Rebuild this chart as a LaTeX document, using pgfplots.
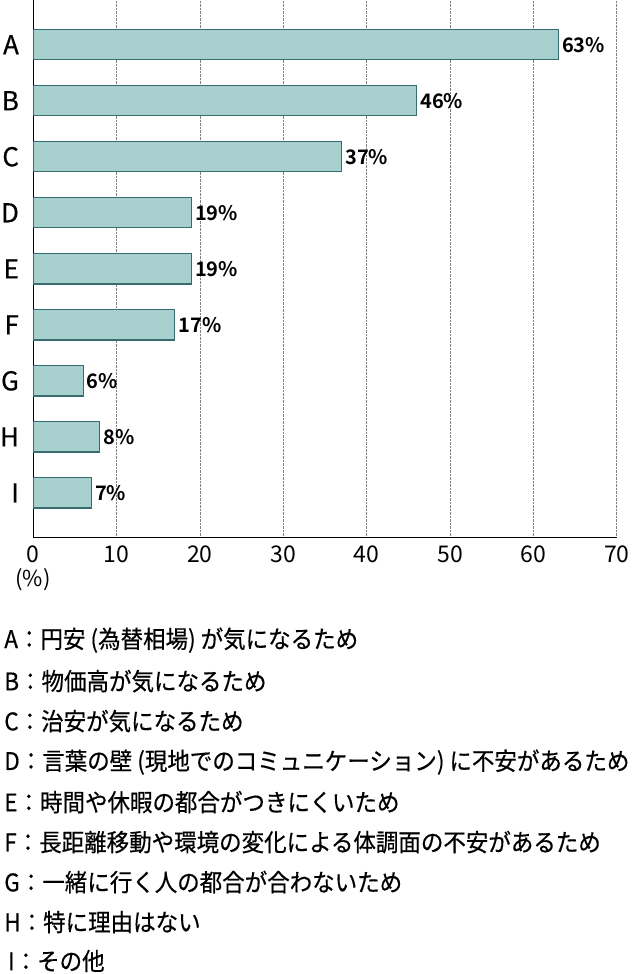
\documentclass[border=0pt]{standalone}
\usepackage{fontspec}
\setmainfont{Noto Sans CJK JP}[BoldFont={Noto Sans CJK JP Bold}]
\newfontfamily\medfont{Noto Sans CJK JP}[FakeBold=0.5]
\usepackage{pgfplots}
\pgfplotsset{compat=1.18}
\definecolor{barfill}{RGB}{166,207,205}
\definecolor{baredge}{RGB}{55,108,115}

\begin{document}
\begin{tikzpicture}
\path (0pt,0pt) rectangle (634pt,-974pt);
\begin{axis}[
    at={(33pt,0pt)}, anchor=north west,
    scale only axis, width=584pt, height=537pt,
    xbar, bar width=0.54,
    xmin=0, xmax=70, ymin=-0.79, ymax=8.79,
    axis lines=left, axis line style={-, thick, black},
    xtick={0,10,...,70}, ytick={0,...,8},
    yticklabels={I,H,G,F,E,D,C,B,A},
    major tick length=0pt,
    xmajorgrids, grid style={densely dotted, gray, thick},
    /pgf/number format/assume math mode=true,
    xticklabel style={font=\fontsize{23}{23}\selectfont, yshift=-5pt},
    yticklabel style={font=\medfont\fontsize{26}{26}\selectfont, inner sep=0pt, xshift=-14pt},
    nodes near coords={\pgfmathprintnumber{\pgfplotspointmeta}\%},
    point meta=x,
    nodes near coords style={font=\bfseries\fontsize{20}{20}\selectfont, anchor=west, inner sep=3pt, black},
    clip=false,
]
\addplot[fill=barfill, draw=baredge, line width=1.2pt] coordinates
    {(63,8) (46,7) (37,6) (19,5) (19,4) (17,3) (6,2) (8,1) (7,0)};
\node[font=\fontsize{22}{22}\selectfont] at (axis cs:0,-0.79) [yshift=-42pt] {(\%)};
\end{axis}
\begin{scope}[every node/.style={anchor=west, inner sep=0pt, yscale=1.08,
      font=\medfont\fontsize{22.5}{22.5}\selectfont}]
\node at (4pt,-640pt) {A：円安 (為替相場) が気になるため};
\node at (4pt,-681pt) {B：物価高が気になるため};
\node at (4pt,-721pt) {C：治安が気になるため};
\node at (4pt,-762pt) {D：言葉の壁 (現地でのコミュニケーション) に不安があるため};
\node at (4pt,-802pt) {E：時間や休暇の都合がつきにくいため};
\node at (4pt,-842pt) {F：長距離移動や環境の変化による体調面の不安があるため};
\node at (4pt,-882pt) {G：一緒に行く人の都合が合わないため};
\node at (4pt,-922pt) {H：特に理由はない};
\node at (4pt,-961pt) {\,I：その他};
\end{scope}
\end{tikzpicture}
\end{document}
